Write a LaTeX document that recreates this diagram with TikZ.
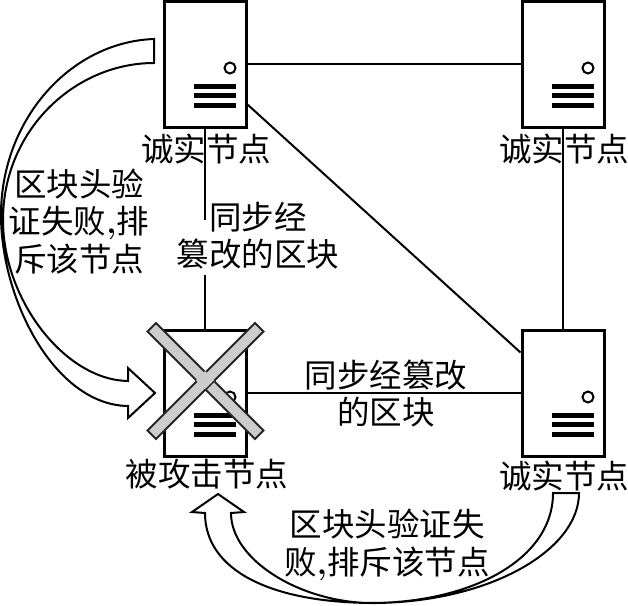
\documentclass[tikz,border=0pt]{standalone}
\usepackage{fontspec}
\newfontfamily\cjk{Noto Sans CJK SC}
\usetikzlibrary{calc}
\newcommand{\cm}{{\rmfamily\bfseries ,}}
\tikzset{
  x=1pt,y=-1pt,
  srvbox/.style={draw=black,line width=3pt,fill=white,minimum width=82pt,minimum height=126pt,inner sep=0pt},
  lbl/.style={font=\fontsize{32.5}{37.5}\selectfont\cjk,align=center,inner sep=0pt,text=black},
  conn/.style={line width=2pt,draw=black},
  bigarrow/.style={line width=2pt,draw=black,line join=miter},
  xbar/.style={line width=2pt,draw=black!85,fill=black!20},
  srvdeco/.pic={
    \draw[line width=2pt] (25,4) circle (5.5);
    \foreach \yy in {22,31.5,41}{\fill[black] (-11,\yy-2.5) rectangle (31,\yy+2.5);}
  }
}
\begin{document}
\begin{tikzpicture}
\useasboundingbox (0,0) rectangle (628,605);
\node[srvbox] (tl) at (205,64) {};
\node[srvbox] (tr) at (563,64) {};
\node[srvbox] (bl) at (205,393) {};
\node[srvbox] (br) at (563,393) {};
\foreach \n in {tl,tr,bl,br}{\pic at (\n) {srvdeco};}
\coordinate (g1) at (205,220);
\coordinate (g2) at (205,275);
\draw[conn] (tl.east) -- (tr.west);
\draw[conn] ($(tl.south east)+(0,-24)$) -- ($(br.north west)+(0,24)$);
\draw[conn] (tr.south) -- (br.north);
\draw[conn] (tl.south) -- (g1);
\draw[conn] (g2) -- (bl.north);
\draw[conn] (bl.east) -- (br.west);
% cross
\draw[xbar] (156,323) -- (147.5,331.5) -- (255,439) -- (263.5,430.5) -- cycle;
\draw[xbar] (255,323) -- (263.5,331.5) -- (156,439) -- (147.5,430.5) -- cycle;
\fill[black!20] (196,380) -- (205,371) -- (214,380) -- (205,389) -- cycle;
% big arrows
\draw[bigarrow] (154,39) .. controls (70,42) and (1,120) .. (1,215)
  .. controls (1,300) and (55,405) .. (128,406)
  -- (128,418) -- (155,393) -- (128,368) -- (128,381)
  .. controls (65,380) and (3,300) .. (3,220)
  .. controls (3,130) and (75,63) .. (154,63) -- cycle;
\draw[bigarrow] (579,493) .. controls (579,550) and (490,602) .. (375,603)
  .. controls (270,603) and (205,570) .. (205,513)
  -- (192,512) -- (218,494) -- (244,512) -- (231,513)
  .. controls (231,560) and (300,602) .. (370,603)
  .. controls (470,603) and (553,560) .. (553,493) -- cycle;
% labels
\node[lbl] (ltl) at (206,149) {诚实节点};
\node[lbl] (ltr) at (564,149) {诚实节点};
\node[lbl] (lbr) at (564,476) {诚实节点};
\node[lbl] (lbl) at (207,474) {被攻击节点};
\node[lbl] (sync1) at (258,235.5) {同步经\\篡改的区块};
\node[lbl] (sync2) at (386,393.5) {同步经篡改\\的区块};
\node[lbl] (rej1) at (79,221.5) {区块头验\\证失败\cm 排\\斥该节点};
\node[lbl] (rej2) at (387,545) {区块头验证失\\败\cm 排斥该节点};
\end{tikzpicture}
\end{document}
